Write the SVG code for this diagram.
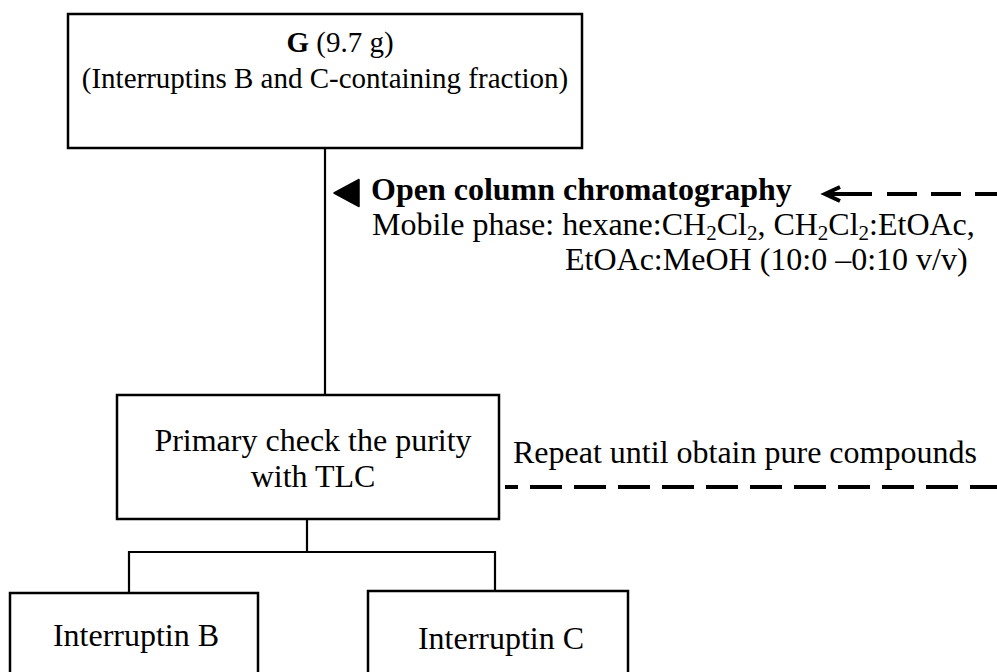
<svg xmlns="http://www.w3.org/2000/svg" width="997" height="672" viewBox="0 0 997 672">
  <style>
    .box { fill: #ffffff; stroke: #000000; stroke-width: 2.5; }
    .wire { fill: none; stroke: #000000; stroke-width: 2.2; }
    .dash { fill: none; stroke: #000000; stroke-width: 4; }
    .t { font-family: "Liberation Serif", "Times New Roman", serif; font-size: 32px; fill: #000000; }
    .small { font-size: 29px; }
    .mid { text-anchor: middle; }
    .b { font-weight: bold; }
  </style>
  <rect x="0" y="0" width="997" height="672" fill="#ffffff"/>

  <!-- connectors -->
  <g id="connectors">
    <line class="wire" x1="325" y1="148" x2="325" y2="395"/>
    <polyline class="wire" points="307,519 307,552"/>
    <polyline class="wire" points="129,593 129,552 495,552 495,591"/>
    <!-- column arrow marker -->
    <polygon points="334,193 359,179.5 359,206.5" fill="#000000" stroke="#000000" stroke-width="1.5" stroke-linejoin="round"/>
    <!-- return loop (dashed) -->
    <polyline class="dash" points="840,187 825,194 840,201" stroke-width="3.5"/>
    <line class="dash" x1="826" y1="194" x2="872" y2="194"/>
    <line class="dash" x1="887" y1="194" x2="997" y2="194" stroke-dasharray="30 14"/>
    <line class="dash" x1="505" y1="487" x2="997" y2="487" stroke-dasharray="32 12" stroke-dashoffset="19"/>
  </g>

  <g id="node-g">
    <rect class="box" x="68" y="14" width="514" height="134"/>
    <text class="t small mid" x="340" y="52"><tspan class="b">G</tspan> (9.7 g)</text>
    <text class="t small mid" x="325" y="88">(Interruptins B and C-containing fraction)</text>
  </g>

  <g id="label-column">
    <text class="t b" x="371" y="200">Open column chromatography</text>
    <text class="t" x="372" y="235">Mobile phase: hexane:CH<tspan font-size="21" baseline-shift="-5">2</tspan>Cl<tspan font-size="21" baseline-shift="-5">2</tspan>, CH<tspan font-size="21" baseline-shift="-5">2</tspan>Cl<tspan font-size="21" baseline-shift="-5">2</tspan>:EtOAc,</text>
    <text class="t" x="565" y="270">EtOAc:MeOH (10:0 –0:10 v/v)</text>
  </g>

  <g id="node-tlc">
    <rect class="box" x="117" y="395" width="382" height="124"/>
    <text class="t mid" x="313" y="451">Primary check the purity</text>
    <text class="t mid" x="313" y="487">with TLC</text>
  </g>

  <g id="label-repeat">
    <text class="t" x="513" y="463">Repeat until obtain pure compounds</text>
  </g>

  <g id="node-b">
    <rect class="box" x="10" y="593" width="248" height="100"/>
    <text class="t mid" x="136" y="646">Interruptin B</text>
  </g>

  <g id="node-c">
    <rect class="box" x="368" y="591" width="260" height="100"/>
    <text class="t mid" x="501" y="649">Interruptin C</text>
  </g>
</svg>
